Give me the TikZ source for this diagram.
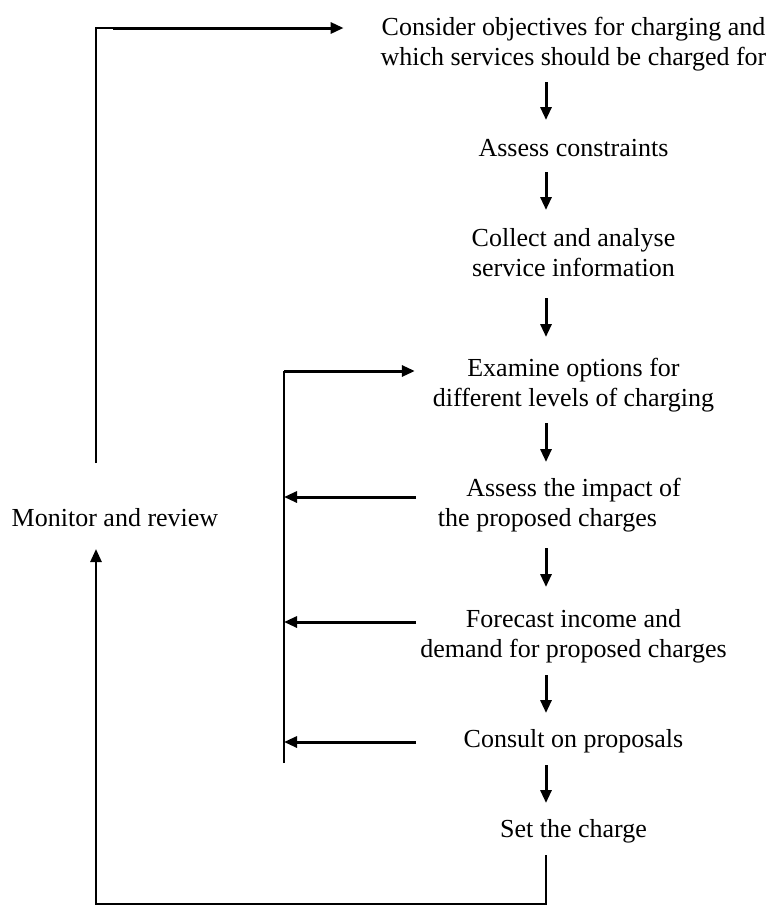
\documentclass[tikz,border=0pt]{standalone}
\usepackage{fontspec}
\setmainfont{Liberation Serif}
\usetikzlibrary{arrows.meta,calc}
\begin{document}
\begin{tikzpicture}[x=0.5pt,y=-0.5pt,
  lbl/.style={inner sep=0pt, outer sep=0pt, align=center, anchor=north,
    font=\fontsize{13}{15}\selectfont},
  ln/.style={line width=1.3pt},
  arr/.style={line width=1.5pt, -{Triangle[length=6.5pt,width=5.5pt]}},
]
\useasboundingbox (0,0) rectangle (769,907);

% step nodes
\node[lbl] (c1) at (573.5,14) {\strut Consider objectives for charging and\\\strut which services should be charged for};
\node[lbl] (c2) at (573.5,135) {\strut Assess constraints};
\node[lbl] (c3) at (573.5,225) {\strut Collect and analyse\\\strut service information};
\node[lbl] (c4) at (573.5,355) {\strut Examine options for\\\strut different levels of charging};
\node[lbl] (c5) at (573.5,475) {\strut Assess the impact of\\\strut the proposed charges\hspace*{26pt}};
\node[lbl] (c6) at (573.5,606) {\strut Forecast income and\\\strut demand for proposed charges};
\node[lbl] (c7) at (573.5,726) {\strut Consult on proposals};
\node[lbl] (c8) at (573.5,816) {\strut Set the charge};
\node[lbl] (mon) at (115,505) {\strut Monitor and review};

% helper coordinates
\coordinate (col) at (546,0);
\coordinate (lx) at (96,0);
\coordinate (top) at (0,28);
\coordinate (bot) at (0,904);
\coordinate (ibot) at (284,763);
\coordinate (itop) at (284,371);
\coordinate (r5) at (416,497);
\coordinate (r6) at (416,622);
\coordinate (r7) at (416,742);
\coordinate (thk) at (113,28);
\coordinate (mtop) at (0,463);

% main column arrows
\draw[arr, shorten <=4pt, shorten >=7.5pt] (c1.south -| col) -- (c2.north -| col);
\draw[arr, shorten <=3.5pt, shorten >=7.5pt] (c2.south -| col) -- (c3.north -| col);
\draw[arr, shorten <=6.5pt, shorten >=9pt] (c3.south -| col) -- (c4.north -| col);
\draw[arr, shorten <=4pt, shorten >=6.5pt] (c4.south -| col) -- (c5.north -| col);
\draw[arr, shorten <=6.5pt, shorten >=9.5pt] (c5.south -| col) -- (c6.north -| col);
\draw[arr, shorten <=4.5pt, shorten >=6.5pt] (c6.south -| col) -- (c7.north -| col);
\draw[arr, shorten <=4.5pt, shorten >=6.5pt] (c7.south -| col) -- (c8.north -| col);

% outer loop: set the charge -> monitor and review
\draw[ln, -{Triangle[length=6.5pt,width=5.5pt]}, shorten <=4.5pt, shorten >=7pt]
  (c8.south -| col) -- (col |- bot) -| (mon.south -| lx);
% monitor and review -> consider objectives
\draw[line width=1.1pt] (lx |- mtop) |- (thk);
\draw[arr, shorten >=18.5pt] (thk) -- (c1.west |- top);

% inner loop
\draw[ln] (ibot) -- (itop);
\draw[arr, shorten >=9pt] (itop) -- (c4.west |- itop);
\draw[arr] (r5) -- (r5 -| ibot);
\draw[arr] (r6) -- (r6 -| ibot);
\draw[arr] (r7) -- (r7 -| ibot);
\end{tikzpicture}
\end{document}
